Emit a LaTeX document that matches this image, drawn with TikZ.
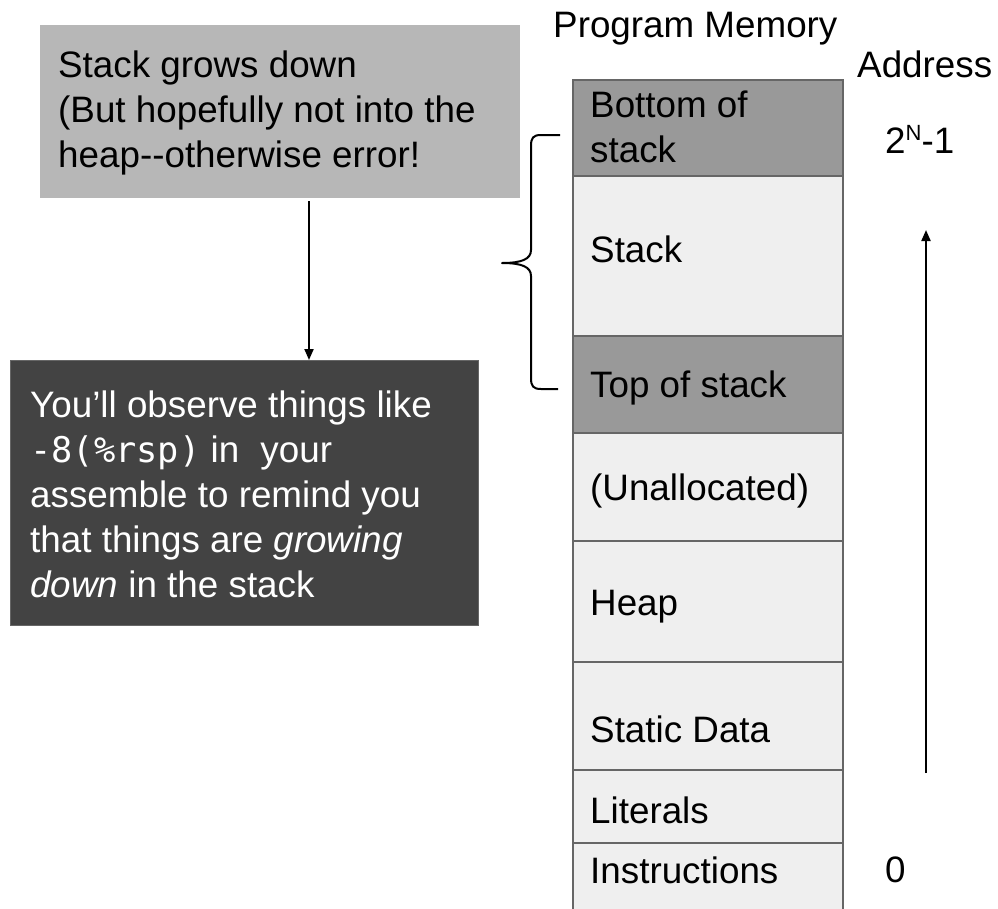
\documentclass[tikz,border=0pt]{standalone}
\usepackage{fontspec}
\setmainfont{Liberation Sans}
\newfontfamily\codefont{DejaVu Sans Mono}[Scale=0.96]
\usetikzlibrary{arrows.meta}

\definecolor{noteLight}{HTML}{B7B7B7}
\definecolor{noteDark}{HTML}{434343}
\definecolor{segDark}{HTML}{999999}
\definecolor{segLight}{HTML}{EFEFEF}
\definecolor{segEdge}{HTML}{666666}

\begin{document}
\begin{tikzpicture}[x=1pt,y=-1pt,
  txt/.style={anchor=base west, inner sep=0pt, font=\fontsize{36.8}{45}\selectfont},
  seg/.style={draw=segEdge, line width=2pt, minimum width=270pt, inner sep=0pt, anchor=north west},
  darkseg/.style={seg, fill=segDark},
  lightseg/.style={seg, fill=segLight},
  arr/.style={line width=2pt, -{Triangle[length=11pt,width=9pt]}},
  bracepath/.style={line width=2pt, line join=round}
]
\clip (0,0) rectangle (998,908);
\fill[white] (0,0) rectangle (998,908);

% note boxes
\node[fill=noteLight, minimum width=480pt, minimum height=173pt, anchor=north west, inner sep=0pt] (light) at (40,25) {};
\node[fill=noteDark, draw=segEdge, line width=1pt, minimum width=468pt, minimum height=265pt, anchor=north west, inner sep=0pt] (dark) at (10,360) {};

\node[txt] (lightText) at (58,77) {\parbox[t]{460pt}{\raggedright Stack grows down\\(But hopefully not into the\\heap-{}-otherwise error!}};
\node[txt, text=white] (darkText) at (30,417) {\parbox[t]{445pt}{\raggedright You’ll observe things like\\{\codefont -8(\%rsp)} in{\codefont\ }your\\assemble to remind you\\that things are \textit{growing}\\\textit{down} in the stack}};

% memory segments
\node[darkseg,  minimum height=96pt]  (bos)    at (572,79)  {};
\node[lightseg, minimum height=160pt] (stk)    at (572,175) {};
\node[darkseg,  minimum height=97pt]  (tos)    at (572,335) {};
\node[lightseg, minimum height=108pt] (unal)   at (572,432) {};
\node[lightseg, minimum height=121pt] (heap)   at (572,540) {};
\node[lightseg, minimum height=108pt] (stat)   at (572,661) {};
\node[lightseg, minimum height=73pt]  (lit)    at (572,769) {};
\node[lightseg, minimum height=90pt]  (instr)  at (572,842) {};

\node[txt] (bosText)   at (590,117) {\parbox[t]{250pt}{Bottom of\\stack}};
\node[txt] (stkText)   at (590,262) {Stack};
\node[txt] (tosText)   at (590,397) {Top of stack};
\node[txt] (unalText)  at (590,500) {(Unallocated)};
\node[txt] (heapText)  at (590,615) {Heap};
\node[txt] (statText)  at (590,742) {Static Data};
\node[txt] (litText)   at (590,823) {Literals};
\node[txt] (instrText) at (590,883) {Instructions};

% headings and address labels
\node[txt] (title)   at (553,37)  {Program Memory};
\node[txt] (addr)    at (857,77)  {Address};
\node[txt] (addrHi)  at (885,153) {2\raisebox{13pt}{\fontsize{22}{22}\selectfont N}-1};
\node[txt] (addrLo)  at (885,882) {0};

% growth arrows
\coordinate (dnx) at (309,0);
\draw[arr, shorten <=3pt] (light.south -| dnx) -- (dark.north -| dnx);
\coordinate (upFrom) at (926,773);
\coordinate (upTo)   at (926,230);
\draw[arr] (upFrom) -- (upTo);

% brace spanning the stack
\coordinate (braceTop) at (560,135);
\coordinate (braceTip) at (502,263);
\coordinate (braceBot) at (558,389);
\draw[bracepath] (braceTop) -- (541,135)
  .. controls (533,135) and (531,138) .. (531,146) -- (531,250)
  .. controls (531,259) and (522,263) .. (braceTip)
  .. controls (522,263) and (531,267) .. (531,276) -- (531,378)
  .. controls (531,386) and (533,389) .. (541,389) -- (braceBot);
\end{tikzpicture}
\end{document}
